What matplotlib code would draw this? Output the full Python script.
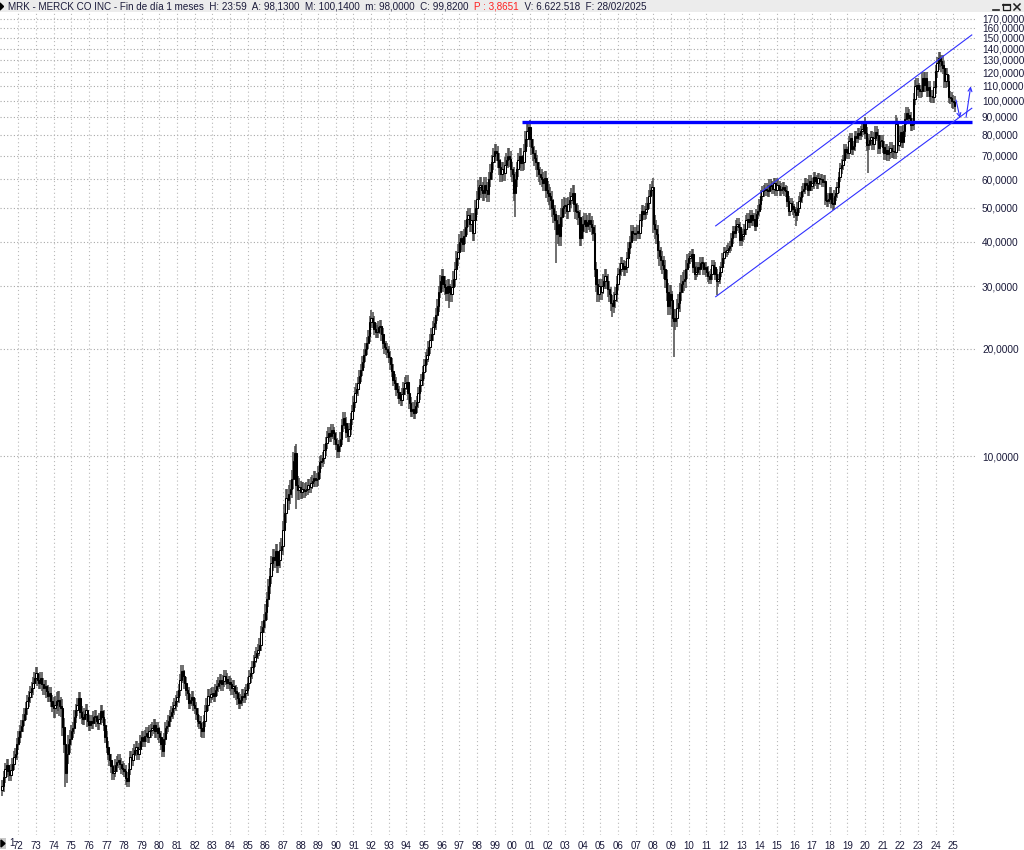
import numpy as np
import matplotlib.pyplot as plt
from matplotlib.patches import Rectangle, Polygon
from matplotlib.lines import Line2D

plt.rcParams['font.family'] = ['Liberation Sans', 'DejaVu Sans']

# monthly closes, Feb 1971 .. Feb 2025
close_1970s = [
    1.18, 1.25, 1.32, 1.35, 1.30, 1.27, 1.31, 1.36, 1.42, 1.45, 1.55,
    1.62, 1.68, 1.74, 1.81, 1.88, 1.95, 2.05, 2.10, 2.17, 2.22, 2.30, 2.38,
    2.45, 2.35, 2.30, 2.38, 2.28, 2.22, 2.25, 2.18, 2.12, 2.15, 2.05, 1.98,
    1.95, 2.00, 2.04, 2.06, 1.98, 1.96, 1.73, 1.55, 1.28, 1.45, 1.55, 1.60,
    1.68, 1.72, 1.85, 1.93, 2.00, 2.08, 1.90, 1.84, 1.82, 1.88, 1.93, 1.80,
    1.75, 1.80, 1.78, 1.84, 1.86, 1.80, 1.77, 1.82, 1.92, 1.85, 1.75, 1.62,
    1.52, 1.45, 1.40, 1.34, 1.28, 1.30, 1.35, 1.38, 1.40, 1.36, 1.33, 1.32,
    1.30, 1.24, 1.22, 1.32, 1.42, 1.40, 1.45, 1.49, 1.52, 1.45, 1.50, 1.58,
    1.62, 1.58, 1.63, 1.66, 1.62, 1.68, 1.70, 1.72, 1.75, 1.68, 1.72, 1.66,
]
close_1980s = [
    1.62, 1.55, 1.48, 1.60, 1.72, 1.74, 1.80, 1.86, 1.90, 1.95, 2.00, 2.05,
    2.10, 2.20, 2.35, 2.48, 2.40, 2.30, 2.20, 2.15, 2.02, 2.06, 2.10, 2.00,
    1.96, 1.88, 1.80, 1.78, 1.72, 1.68, 1.80, 1.92, 2.00, 2.12, 2.10, 2.14,
    2.15, 2.12, 2.20, 2.26, 2.30, 2.35, 2.28, 2.33, 2.40, 2.36, 2.30, 2.32,
    2.28, 2.22, 2.25, 2.18, 2.15, 2.08, 2.02, 2.06, 2.12, 2.10, 2.15, 2.20,
    2.30, 2.40, 2.45, 2.55, 2.65, 2.72, 2.80, 2.85, 2.95, 3.20, 3.30, 3.45,
    3.65, 3.95, 4.30, 4.60, 5.00, 5.20, 5.10, 5.40, 4.95, 5.10, 5.45, 5.60,
    6.20, 6.90, 7.60, 7.50, 7.80, 8.10, 8.60, 9.70, 10.20, 8.30, 8.00, 8.20,
    7.90, 8.10, 7.95, 8.05, 8.10, 8.30, 8.20, 8.40, 8.50, 8.70, 8.55, 8.60,
    9.00, 9.60, 9.70, 9.90, 10.40, 10.90, 11.30, 11.60, 11.40, 11.80, 11.60, 11.20,
]
close_1990s = [
    10.80, 10.30, 10.70, 11.20, 12.20, 12.80, 12.40, 11.70, 11.40, 11.90, 12.70, 13.40,
    14.20, 15.00, 15.40, 16.00, 16.80, 17.50, 18.40, 19.20, 20.00, 20.80, 21.80, 23.80,
    24.50, 23.80, 22.80, 22.30, 22.40, 23.00, 23.20, 22.00, 20.80, 20.20, 20.00, 19.60,
    19.00, 18.20, 17.40, 16.40, 16.00, 15.40, 15.10, 14.60, 14.40, 14.90, 15.50, 16.00,
    16.20, 15.00, 14.10, 13.40, 13.60, 13.20, 13.80, 14.20, 15.00, 15.80, 16.40, 17.20,
    18.00, 18.80, 19.20, 20.20, 21.20, 22.00, 23.00, 23.60, 25.00, 26.50, 29.00, 31.00,
    32.00, 30.50, 29.80, 28.80, 30.00, 29.00, 28.50, 29.80, 31.50, 33.50, 36.00, 37.50,
    40.00, 41.00, 39.50, 41.50, 44.00, 46.50, 47.50, 45.00, 46.00, 42.50, 46.00, 50.00,
    53.00, 57.00, 58.00, 56.00, 55.00, 58.00, 56.00, 54.50, 60.00, 63.00, 67.00, 70.00,
    72.00, 71.00, 68.00, 65.00, 62.00, 64.00, 62.50, 66.00, 68.00, 70.00, 68.50, 64.00,
]
close_2000s = [
    62.00, 55.00, 60.00, 64.00, 68.00, 70.00, 66.50, 67.00, 72.00, 78.00, 82.00, 84.00,
    78.00, 74.00, 71.00, 69.00, 67.00, 64.00, 62.00, 61.00, 60.00, 58.50, 60.50, 56.00,
    55.00, 54.00, 52.50, 50.00, 48.00, 46.00, 42.00, 45.00, 41.50, 47.00, 50.00, 50.50,
    50.50, 49.00, 51.00, 52.50, 54.00, 55.00, 51.00, 49.00, 48.50, 47.00, 41.00, 43.00,
    45.00, 46.00, 44.50, 45.50, 46.00, 45.00, 44.00, 42.50, 33.50, 30.50, 28.50, 30.00,
    29.00, 30.00, 31.00, 32.00, 31.00, 29.50, 28.50, 27.00, 26.50, 27.50, 28.50, 30.50,
    32.50, 33.50, 34.80, 34.20, 33.50, 34.00, 36.00, 38.50, 40.00, 43.00, 42.50, 42.00,
    42.50, 43.00, 42.50, 46.00, 49.00, 48.00, 48.50, 49.50, 51.50, 54.00, 56.00, 57.00,
    45.00, 43.50, 42.00, 38.00, 36.50, 35.50, 34.50, 33.50, 31.50, 29.00, 26.50, 28.50,
    27.50, 24.50, 24.00, 24.50, 26.00, 27.00, 29.00, 30.50, 31.00, 31.50, 33.50, 35.00,
]
close_2010s = [
    36.00, 36.50, 37.00, 34.00, 32.50, 33.00, 34.00, 33.50, 35.00, 35.00, 33.50, 34.00,
    33.00, 32.00, 31.50, 32.50, 34.50, 34.00, 32.50, 31.00, 31.50, 33.00, 34.00, 36.00,
    37.50, 37.50, 38.00, 38.50, 39.00, 41.00, 43.00, 42.50, 44.50, 45.00, 44.00, 40.50,
    41.50, 42.00, 43.50, 46.00, 46.50, 45.50, 47.50, 46.00, 46.50, 44.50, 48.00, 49.00,
    51.00, 54.00, 55.50, 56.00, 56.50, 56.00, 55.50, 58.00, 57.50, 56.50, 58.50, 56.00,
    58.00, 57.50, 56.00, 56.50, 57.00, 56.00, 55.50, 52.00, 49.00, 51.50, 50.50, 49.50,
    48.50, 47.50, 50.00, 52.00, 53.50, 55.50, 56.50, 58.50, 58.00, 56.00, 59.50, 57.50,
    58.50, 61.00, 59.50, 58.50, 60.50, 60.00, 60.00, 59.00, 59.50, 52.50, 52.00, 53.00,
    55.00, 51.50, 51.00, 54.00, 55.00, 57.00, 61.00, 64.50, 66.00, 68.00, 73.00, 71.50,
    71.00, 77.00, 78.50, 73.00, 74.50, 79.50, 78.50, 81.00, 80.00, 82.00, 83.00, 86.50,
]
close_2020s = [
    81.00, 75.00, 75.50, 77.50, 79.00, 75.50, 78.50, 81.50, 80.00, 73.50, 77.00, 77.00,
    74.00, 71.00, 72.50, 70.50, 71.50, 73.50, 72.00, 72.00, 71.50, 86.00, 75.00, 77.00,
    81.50, 76.60, 82.00, 88.70, 92.00, 91.20, 89.30, 85.40, 86.10, 101.20, 110.10, 110.90,
    107.40, 106.20, 106.40, 115.50, 110.40, 115.40, 106.70, 109.00, 103.00, 102.70, 102.50, 109.00,
    120.80, 127.10, 131.90, 129.20, 125.50, 123.80, 113.10, 118.40, 113.60, 102.30, 101.70, 99.50,
    98.90, 96.50,
]

# typical wick size of the monthly bars, per year 1971..2025
wick_pct = [
    0.04, 0.04, 0.04, 0.06, 0.04, 0.04, 0.04, 0.04, 0.04,
    0.04, 0.04, 0.04, 0.04, 0.04, 0.04, 0.05, 0.06, 0.04, 0.04,
    0.04, 0.04, 0.04, 0.04, 0.04, 0.04, 0.05, 0.05, 0.05, 0.05,
    0.05, 0.05, 0.06, 0.05, 0.05, 0.05, 0.04, 0.04, 0.06, 0.06,
    0.035, 0.035, 0.035, 0.035, 0.035, 0.035, 0.035, 0.035, 0.035, 0.035,
    0.04, 0.04, 0.04, 0.04, 0.04, 0.04,
]

# long wicks visible on the chart
spike_low_dates = ['1974-09', '1982-05', '1987-10', '1996-06', '2000-03', '2002-07',
                   '2005-09', '2009-03', '2011-08', '2016-02', '2020-03']
spike_low_vals = [1.17, 1.62, 7.1, 26.0, 47.0, 35.0, 24.6, 19.0, 28.3, 44.5, 62.5]
spike_high_dates = ['1973-01', '1981-04', '1987-09', '1992-01', '2000-12', '2007-12',
                    '2015-01', '2019-12', '2021-10', '2024-06']
spike_high_vals = [2.55, 2.58, 10.7, 25.8, 87.5, 59.5, 60.5, 87.5, 91.0, 134.6]

# annotation lines (month index since Jan 1971, price)
hline_price = 87.2
hline_span = (354.7, 660.8)
channel_upper = ((486.4, 44.4), (660.6, 152.9))
channel_lower = ((486.4, 28.06), (660.6, 95.1))
arrow_down = ((649.9, 100.3), (652.6, 89.3))
arrow_up = ((656.7, 89.6), (659.9, 109.6))

y_ticks = [10, 20, 30, 40, 50, 60, 70, 80, 90, 100, 110, 120, 130, 140, 150, 160, 170]
years = list(range(1972, 2026))

header_a = 'MRK - MERCK CO INC - Fin de día 1 meses  H: 23:59  A: 98,1300  M: 100,1400  m: 98,0000  C: 99,8200  '
header_p = 'P : 3,8651'
header_b = '  V: 6.622.518  F: 28/02/2025'


def month_idx(s):
    y, m = s.split('-')
    return (int(y) - 1971) * 12 + int(m) - 1


closes = np.array(close_1970s + close_1980s + close_1990s + close_2000s + close_2010s + close_2020s)
months = np.arange(1, len(closes) + 1)
opens = np.r_[1.15, closes[:-1]]
w = np.array(wick_pct)[months // 12]
highs = np.maximum(opens, closes) * (1 + w)
lows = np.minimum(opens, closes) * (1 - w)
for d, v in zip(spike_low_dates, spike_low_vals):
    lows[month_idx(d) - 1] = v
for d, v in zip(spike_high_dates, spike_high_vals):
    highs[month_idx(d) - 1] = v

W, H = 1024, 850
fig = plt.figure(figsize=(W / 100, H / 100), dpi=100)
fig.patch.set_facecolor('white')
ax = fig.add_axes([0, 1 - 835 / H, 975 / W, (835 - 12) / H])
ax.set_yscale('log')
ax.set_xlim(-0.45, 662.8)
ax.set_ylim(0.859, 177.4)

# grid
for y in y_ticks:
    ax.axhline(y, color='#a8a8a8', lw=0.8, ls=(0, (1, 2)), zorder=0)
for yr in years:
    ax.axvline((yr - 1971) * 12, color='#b8b8b8', lw=0.8, ls=(0, (1, 2.5)), zorder=0)

# candles
up = closes >= opens
ax.vlines(months, lows, highs, color='#484848', lw=1.1, zorder=2)
ax.bar(months, np.maximum(np.abs(closes - opens), closes * 0.004), bottom=np.minimum(opens, closes),
       width=0.9, color=np.where(up, 'white', 'black'), edgecolor='black', linewidth=0.75, zorder=3)

# blue lines
ax.hlines(hline_price, hline_span[0], hline_span[1], color='#0000ff', lw=2.4, zorder=4)
for (x0, y0), (x1, y1) in [channel_upper, channel_lower]:
    ax.plot([x0, x1], [y0, y1], color='#3030ff', lw=0.8, zorder=4)
for (x0, y0), (x1, y1) in [arrow_down, arrow_up]:
    ax.annotate('', xy=(x1, y1), xytext=(x0, y0),
                arrowprops=dict(arrowstyle='->', color='#3030ff', lw=0.8,
                                shrinkA=0, shrinkB=0, mutation_scale=7), zorder=4)

# axes / ticks
for s in ax.spines.values():
    s.set_visible(False)
ax.yaxis.tick_right()
ax.set_yticks(y_ticks)
ax.set_yticklabels([f'{v:.4f}'.replace('.', ',') for v in y_ticks])
ax.yaxis.set_minor_locator(plt.NullLocator())
ax.tick_params(axis='y', length=0, pad=5, labelsize=7.3, labelcolor='#1a1a3a')
ax.set_xticks([(yr - 1971) * 12 for yr in years])
ax.set_xticklabels([f'{yr % 100:02d}' for yr in years])
ax.tick_params(axis='x', length=0, pad=4, labelsize=7, labelcolor='#1a1a3a')
fig.text(11.5 / W, 1 - 843 / H, '1', fontsize=7, color='#1a1a3a', ha='center', va='center')

# header bar
fig.add_artist(Rectangle((0, 1 - 12 / H), 1, 12 / H, transform=fig.transFigure,
                         facecolor='#ececec', edgecolor='none', zorder=0))
fig.add_artist(Polygon([[0, 1 - 3 / H], [3.5 / W, 1 - 6.5 / H], [0, 1 - 10 / H]],
                       closed=True, transform=fig.transFigure, color='black'))
r = fig.canvas.get_renderer()
t = fig.text(8 / W, 1 - 6.5 / H, header_a, fontsize=7.1, color='#1a1a3a', va='center')
x = t.get_window_extent(r).x1
t = fig.text(x / W, 1 - 6.5 / H, header_p, fontsize=7.1, color='#ff2020', va='center')
x = t.get_window_extent(r).x1
fig.text(x / W, 1 - 6.5 / H, header_b, fontsize=7.1, color='#1a1a3a', va='center')

# window buttons
def px_line(xs, ys, lw=1.0):
    fig.add_artist(Line2D([v / W for v in xs], [1 - v / H for v in ys], transform=fig.transFigure,
                          color='#202020', lw=lw))

px_line([993, 999], [10, 10], 1.2)
px_line([1003, 1010, 1010, 1003, 1003], [4, 4, 10, 10, 4], 0.9)
px_line([1003, 1010], [4.5, 4.5], 1.3)
px_line([1014, 1020], [4, 10], 1.1)
px_line([1014, 1020], [10, 4], 1.1)

# small scroll button at bottom left
fig.add_artist(Rectangle((0, 1 - 849 / H), 6 / W, 11 / H, transform=fig.transFigure,
                         facecolor='#c8c8c8', edgecolor='none'))
fig.add_artist(Polygon([[1 / W, 1 - 840 / H], [5 / W, 1 - 843.5 / H], [1 / W, 1 - 847 / H]],
                       closed=True, transform=fig.transFigure, color='black'))

fig.savefig('out.png', dpi=100)
